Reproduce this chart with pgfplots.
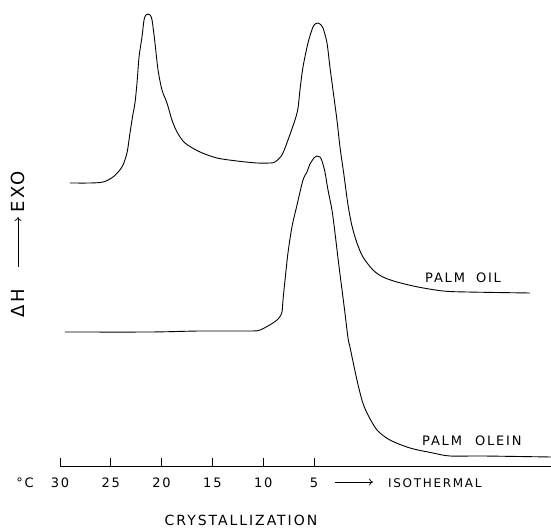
\documentclass[border=0pt]{standalone}
\usepackage{fontspec}
\setmainfont{DejaVu Sans}
\newfontfamily\lbl[LetterSpace=14]{DejaVu Sans}
\usepackage{pgfplots}
\usepackage{pgfplotstable}
\pgfplotsset{compat=1.18}
\usetikzlibrary{calc,arrows.meta}

\pgfplotstableread{
T y
29.02 28.3
27.05 28.3
25.77 28.4
24.78 28.9
23.90 29.9
23.41 31.3
23.11 33.3
22.85 35.0
22.62 36.3
22.42 38.3
22.22 40.9
21.93 42.9
21.73 44.6
21.54 45.1
21.34 45.2
21.14 45.1
20.94 44.6
20.65 42.3
20.35 39.6
19.96 37.6
19.47 36.3
18.98 34.6
18.48 33.4
17.70 32.3
16.22 31.4
14.55 30.8
12.58 30.5
10.61 30.3
9.33 30.3
8.84 30.4
8.15 31.1
7.56 32.6
6.87 34.6
6.57 35.8
6.38 37.6
6.08 39.9
5.59 42.3
5.10 43.9
4.80 44.25
4.61 44.3
4.41 44.2
4.11 43.8
3.72 42.3
3.43 39.9
3.13 37.6
2.74 34.6
2.44 31.9
2.05 29.1
1.65 26.1
1.26 24.0
0.77 22.3
0.18 20.9
-0.81 19.6
-1.79 18.9
-3.17 18.4
-5.24 17.9
-7.70 17.5
-10.06 17.4
-16.26 17.3
}\palmoil

\pgfplotstableread{
T y
29.51 13.4
21.14 13.4
16.22 13.5
11.30 13.5
10.31 13.6
9.04 14.3
8.44 14.8
8.15 15.4
8.05 16.6
7.85 18.6
7.56 21.3
7.17 23.9
6.67 26.1
6.08 28.6
5.69 29.4
5.39 30.2
5.00 30.8
4.70 31.0
4.41 30.9
4.21 30.5
3.92 29.4
3.62 27.6
3.23 25.6
2.93 23.3
2.64 20.8
2.24 17.6
1.95 15.3
1.65 12.8
1.46 11.9
0.77 8.6
0.28 6.6
-0.22 5.3
-1.20 3.6
-2.48 2.6
-4.45 1.8
-6.71 1.3
-8.39 1.0
-11.63 1.0
-18.33 0.9
}\palmolein

\begin{document}
\begin{tikzpicture}
\begin{axis}[
  scale only axis, width=491pt, height=466pt,
  xmin=-18.33, xmax=30, ymin=0, ymax=46.6,
  x dir=reverse,
  axis x line*=bottom, axis y line=none,
  xtick={30,25,20,15,10,5},
  tick align=inside, major tick length=8pt,
  tick style={black, line width=0.7pt},
  axis line style={black, line width=0.9pt},
  xticklabel style={font=\lbl\fontsize{13}{13}\selectfont, anchor=base, yshift=-21pt},
  /pgf/number format/assume math mode=true,
  clip=false,
]
\addplot[black, line width=0.9pt, smooth, tension=0.5] table {\palmoil};
\addplot[black, line width=0.9pt, smooth, tension=0.5] table {\palmolein};
\end{axis}
\coordinate (P0) at ($(current axis.south west)+(-60pt,466pt)$);
\begin{scope}[shift={(P0)}, x=1pt, y=-1pt]
\node[font=\lbl\fontsize{13}{13}\selectfont, anchor=base, inner sep=0pt] at (25,487) {°C};
\draw[line width=0.7pt, -{To[length=4pt,width=7pt]}] (335,482) -- (373,482);
\node[font=\lbl\fontsize{12}{12}\selectfont, anchor=base west, inner sep=0pt] at (388,487) {ISOTHERMAL};
\node[font=\lbl\fontsize{14}{14}\selectfont, anchor=base, inner sep=0pt] at (241,525) {CRYSTALLIZATION};
\node[font=\lbl\fontsize{13}{13}\selectfont, anchor=base west, inner sep=0pt] at (425,283) {PALM\hspace{11pt}OIL};
\node[font=\lbl\fontsize{13}{13}\selectfont, anchor=base west, inner sep=0pt] at (422,446) {PALM\hspace{13pt}OLEIN};
\node[font=\lbl\fontsize{18}{18}\selectfont, rotate=90, anchor=base west, inner sep=0pt] at (25,318) {ΔH};
\draw[line width=0.7pt, -{To[length=4pt,width=7pt]}] (18,267) -- (18,217);
\node[font=\lbl\fontsize{18}{18}\selectfont, rotate=90, anchor=base west, inner sep=0pt] at (25,213) {EXO};
\end{scope}
\pgfresetboundingbox
\path[use as bounding box] (P0) rectangle ($(P0)+(551pt,-527pt)$);
\end{tikzpicture}
\end{document}
